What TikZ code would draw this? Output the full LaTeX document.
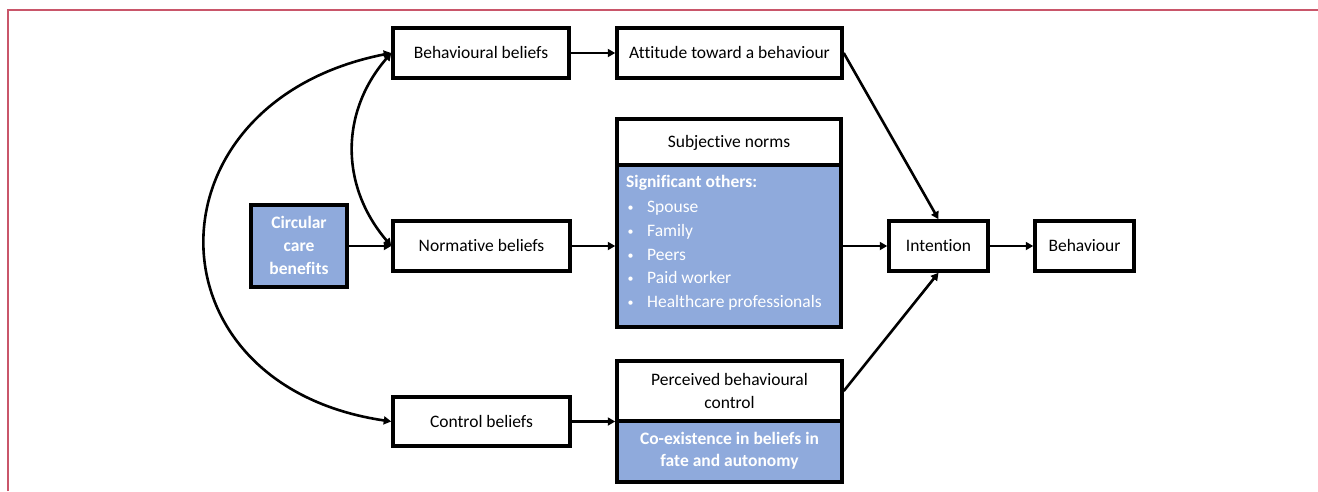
\documentclass[tikz,border=0pt]{standalone}
\usepackage{fontspec}
\setmainfont[Ligatures=NoCommon]{Carlito}
\usetikzlibrary{arrows.meta}
\definecolor{boxblue}{HTML}{8FAADC}
\definecolor{framered}{HTML}{C9566A}
\newcommand{\myfs}{\fontsize{17.5}{23}\selectfont}
\newcommand{\mybul}{\makebox[21pt][l]{\hspace{1.5pt}{\fontsize{12}{12}\selectfont\raisebox{1pt}{•}}}}
\begin{document}
\begin{tikzpicture}[x=1pt,y=-1pt,
  box/.style={draw=black, line width=3.5pt, fill=white, inner sep=0pt, font=\myfs, text height=11.5pt, text depth=0pt},
  bluebox/.style={box, fill=boxblue},
  conn/.style={line width=2.6pt, -{Triangle[length=7.5pt,width=8pt]}},
  dconn/.style={line width=2.6pt, {Triangle[length=7.5pt,width=8pt]}-{Triangle[length=7.5pt,width=8pt]}},
  wtext/.style={text=white, font=\myfs\bfseries, inner sep=0pt, anchor=base},
  ltext/.style={font=\myfs, inner sep=0pt, anchor=base},
  litem/.style={text=white, font=\myfs, inner sep=0pt, anchor=base west},
]
\useasboundingbox (0,0) rectangle (1318,491);
\draw[framered, line width=2pt] (8,491) |- (1318,10);

% boxes
\node[box, minimum width=176pt, minimum height=50pt] (bb) at (481,53) {Behavioural beliefs};
\node[box, minimum width=225pt, minimum height=50pt] (att) at (729.5,53) {Attitude toward a behaviour};
\node[box, minimum width=177pt, minimum height=50pt] (nb) at (481.5,246) {Normative beliefs};
\node[box, minimum width=177pt, minimum height=49pt] (cb) at (481.5,421.5) {Control beliefs};
\node[bluebox, minimum width=96pt, minimum height=82pt] (ccb) at (299,246) {};
\node[bluebox, minimum width=224pt, minimum height=162pt] (so) at (729,246) {};
\node[box, minimum width=224pt, minimum height=46pt] (sn) at (729,142) {Subjective norms};
\node[box, minimum width=225pt, minimum height=60pt] (pbc) at (729.5,391) {};
\node[bluebox, minimum width=225pt, minimum height=61pt] (cob) at (729.5,451.5) {};
\node[box, minimum width=99pt, minimum height=50pt] (int) at (938.5,246) {Intention};
\node[box, minimum width=99pt, minimum height=50pt] (beh) at (1084.5,246) {Behaviour};

% texts
\node[wtext] (ccb1) at (299,228) {Circular};
\node[wtext] (ccb2) at (299,251) {care};
\node[wtext] (ccb3) at (299,274) {benefits};
\node[ltext] (pbc1) at (729.5,385) {Perceived behavioural};
\node[ltext] (pbc2) at (729.5,408) {control};
\node[wtext] (cob1) at (729.5,444) {Co-existence in beliefs in};
\node[wtext] (cob2) at (729.5,466) {fate and autonomy};
\node[wtext, anchor=base west] (sot) at (626,187) {Significant others:};
\node[litem] (so1) at (626,212) {\mybul Spouse};
\node[litem] (so2) at (626,236) {\mybul Family};
\node[litem] (so3) at (626,260) {\mybul Peers};
\node[litem] (so4) at (626,283.5) {\mybul Paid worker};
\node[litem] (so5) at (626,307) {\mybul Healthcare professionals};

% connectors
\draw[conn] (bb) -- (att);
\draw[conn] (ccb) -- (nb);
\draw[conn] (nb) -- (so);
\draw[conn] (cb) -- (cb -| pbc.south west);
\draw[conn] (so) -- (int);
\draw[conn] (att.east) -- (int.north);
\draw[conn] (pbc.east) -- (int.south);
\draw[conn] (int) -- (beh);
\draw[dconn] (bb.west) .. controls (340,112) and (340,186) .. (nb.west);
\draw[dconn] (bb.west) .. controls (143,102) and (143,385) .. (cb.west);
\end{tikzpicture}
\end{document}
